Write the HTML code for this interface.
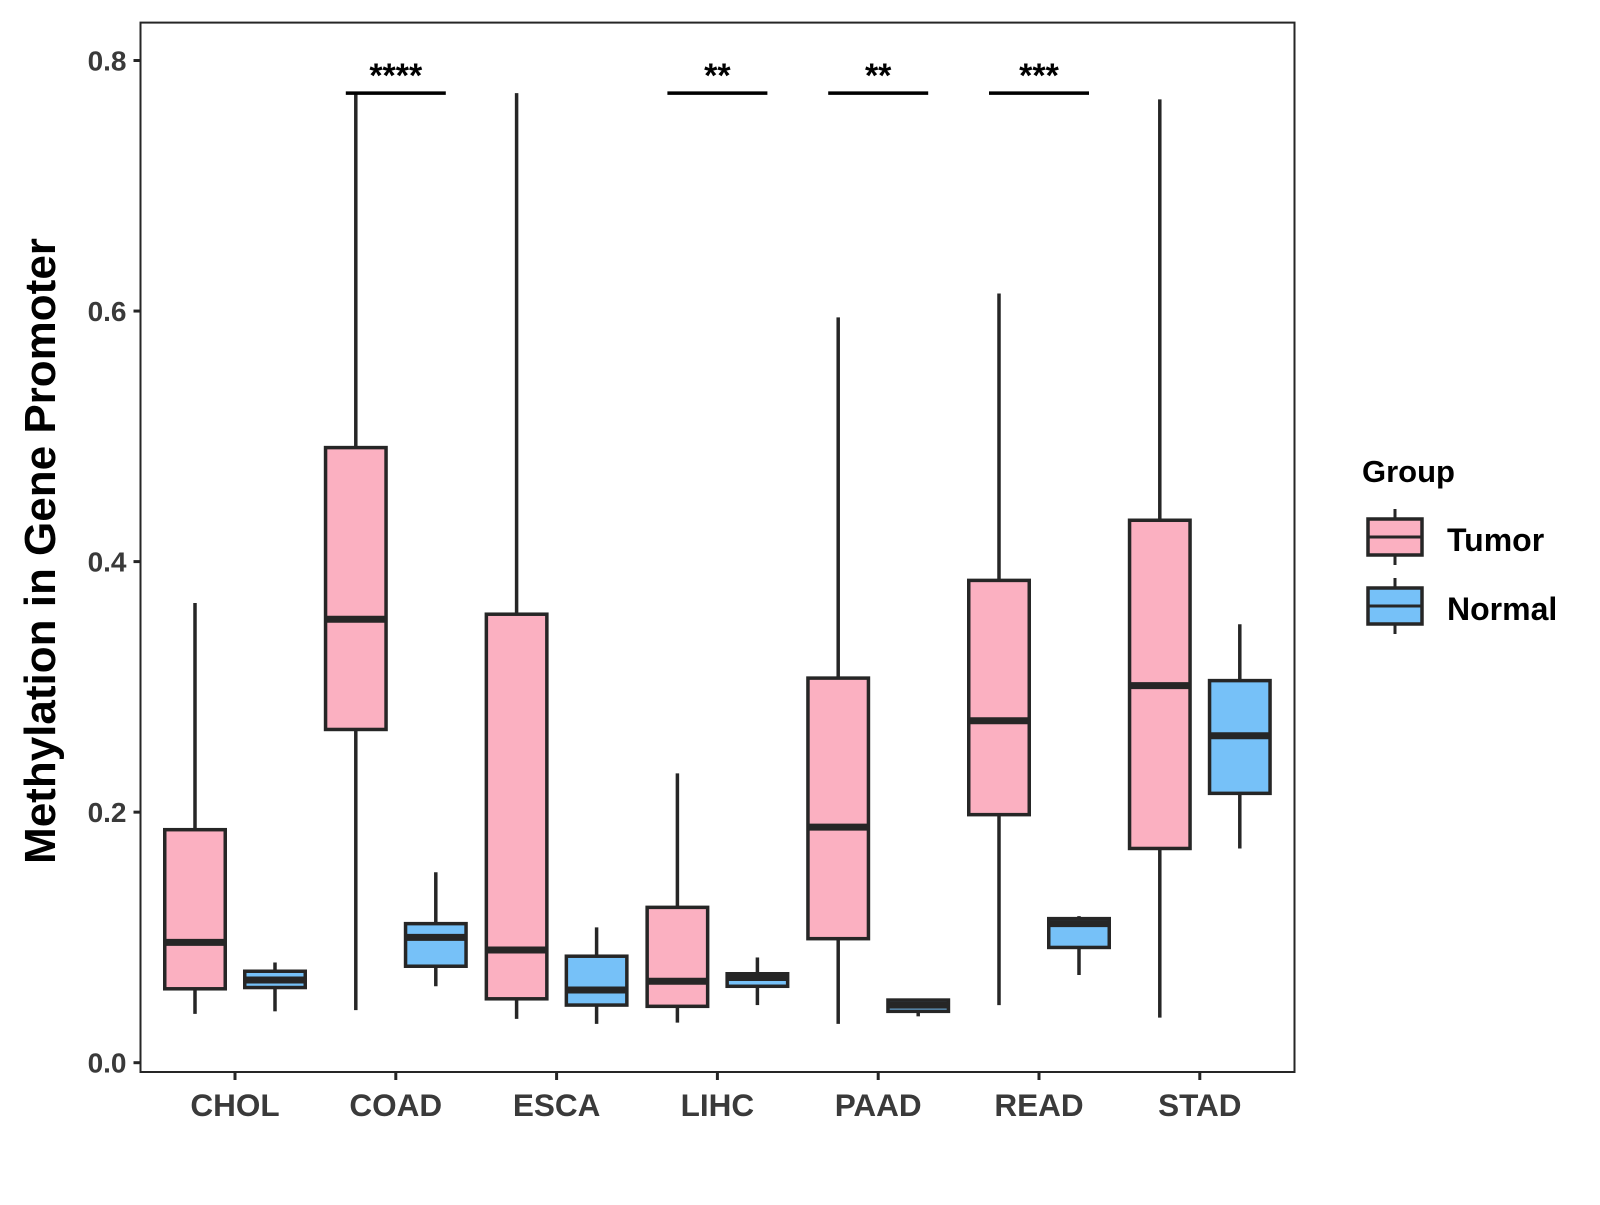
<!DOCTYPE html>
<html><head><meta charset="utf-8"><style>
body{margin:0;background:#fff;width:1600px;height:1200px;overflow:hidden}
svg text{font-family:"Liberation Sans",Arial,sans-serif;font-weight:bold}
</style></head><body>
<svg id="chart" width="1600" height="1200">
<g id="g"></g>
</svg>
<script>
const categories=["CHOL","COAD","ESCA","LIHC","PAAD","READ","STAD"];
// [low, q1, median, q3, high]
const tumorStats=[[0.039,0.059,0.096,0.186,0.367],[0.042,0.266,0.354,0.491,0.774],[0.035,0.051,0.090,0.358,0.774],[0.032,0.045,0.065,0.124,0.231],[0.031,0.099,0.188,0.307,0.595],[0.046,0.198,0.273,0.385,0.614],[0.036,0.171,0.301,0.433,0.769]];
const normalStats=[[0.041,0.060,0.066,0.073,0.080],[0.061,0.077,0.100,0.111,0.152],[0.031,0.046,0.058,0.085,0.108],[0.046,0.061,0.068,0.071,0.084],[0.037,0.041,0.046,0.050,0.051],[0.070,0.092,0.111,0.115,0.117],[0.171,0.215,0.261,0.305,0.350]];
const sigLabels=["","****","","**","**","***",""];
const sigLevel=0.774;
const yTicks=[0,0.2,0.4,0.6,0.8];
const yTickLabels=["0.0","0.2","0.4","0.6","0.8"];

const L=140.5,R=1294.5,T=22.6,B=1072;
const y=v=>1062.7-v*(1062.7-60.5)/0.8;
const x=i=>235+i*160.8;
const g=document.getElementById('g');
const NS="http://www.w3.org/2000/svg";
function mk(t,a,txt){const e=document.createElementNS(NS,t);for(const k in a)e.setAttribute(k,a[k]);if(txt!==undefined)e.textContent=txt;g.appendChild(e);return e;}
const ink="#262626";
let e=mk('rect',{x:L,y:T,width:R-L,height:B-T,fill:'none',stroke:ink,'stroke-width':2});


yTicks.forEach((v,i)=>{
 let t=mk('line',{x1:L-7,x2:L,y1:y(v),y2:y(v),stroke:ink,'stroke-width':3});
 
 
 let l=mk('text',{x:L-14,y:y(v)+10,'text-anchor':'end','font-size':28,fill:'#3a3a3a'},yTickLabels[i]);
 
 
});
function box(cx,s,fill,name){
 const w=60.5,h=w/2;
 let wl=mk('line',{x1:cx,x2:cx,y1:y(s[4]),y2:y(s[0]),stroke:ink,'stroke-width':3.5});
 
 
 let r=mk('rect',{x:cx-h,y:y(s[3]),width:w,height:y(s[1])-y(s[3]),fill:fill,stroke:ink,'stroke-width':3.5});
 
 
 let m=mk('line',{x1:cx-h,x2:cx+h,y1:y(s[2]),y2:y(s[2]),stroke:ink,'stroke-width':7});
 
 
}
categories.forEach((c,i)=>{
 const cx=x(i);
 box(cx-40,tumorStats[i],'#FBB0C1',c.toLowerCase()+'-tumor');
 box(cx+40,normalStats[i],'#76C1F8',c.toLowerCase()+'-normal');
 let t=mk('line',{x1:cx,x2:cx,y1:B,y2:B+8,stroke:ink,'stroke-width':3});
 
 
 let l=mk('text',{x:cx,y:1116,'text-anchor':'middle','font-size':31.5,fill:'#3a3a3a'},c);
 
 
 if(sigLabels[i]){
  let b=mk('line',{x1:cx-50,x2:cx+50,y1:y(sigLevel),y2:y(sigLevel),stroke:'#000','stroke-width':3.5});
  
  
  let s=mk('text',{x:cx,y:y(sigLevel)-6,'text-anchor':'middle','font-size':34,fill:'#000'},sigLabels[i]);
  
  
 }
});
let yt=mk('text',{x:0,y:0,'text-anchor':'middle','font-size':44,fill:'#000',transform:'translate(55,551) rotate(-90)'},'Methylation in Gene Promoter');


let lt=mk('text',{x:1362,y:482,'font-size':31,fill:'#000'},'Group');


[['Tumor','#FBB0C1',519,551],['Normal','#76C1F8',588,620]].forEach(([n,f,ty,by])=>{
 let w=mk('line',{x1:1395,x2:1395,y1:ty-10,y2:ty+46,stroke:ink,'stroke-width':3});
 
 
 let r=mk('rect',{x:1368,y:ty,width:54,height:36,fill:f,stroke:ink,'stroke-width':3.5});
 
 
 let m=mk('line',{x1:1368,x2:1422,y1:ty+18,y2:ty+18,stroke:ink,'stroke-width':3});
 
 
 let t=mk('text',{x:1447,y:by,'font-size':32,fill:'#000'},n);
 
 
});
</script>
</body></html>
